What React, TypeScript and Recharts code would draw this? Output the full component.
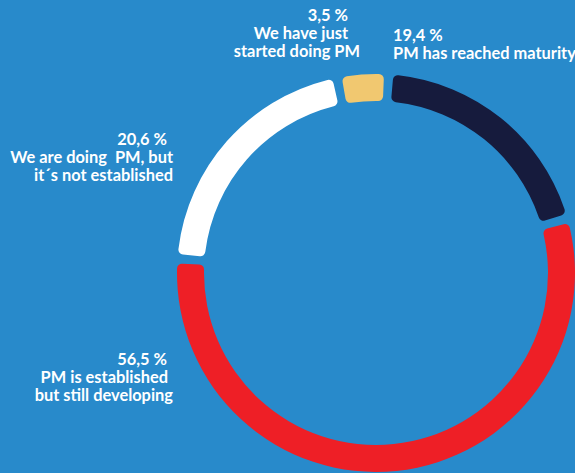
import { Cell, Pie, PieChart } from "recharts";

const categories = [
  "PM has reached maturity",
  "PM is established but still developing",
  "We are doing PM, but it´s not established",
  "We have just started doing PM",
];
const shares = [19.4, 56.5, 20.6, 3.5];
const labelLines = [
  ["PM has reached maturity"],
  ["PM is established", "but still developing"],
  ["We are doing  PM, but", "it´s not established"],
  ["We have just", "started doing PM"],
];
const colors = ["#161b3d", "#ee1f26", "#ffffff", "#f1c870"];

// where each label block sits (x per line: percent line first), and its first baseline
const labelLayout = [
  { anchor: "start", xs: [393, 393], y: 41 },
  { anchor: "end", xs: [167, 168, 173], y: 365 },
  { anchor: "end", xs: [167, 173, 173], y: 145 },
  { anchor: "end", xs: [348, 348, 360], y: 21 },
];

const data = categories.map((name, i) => ({ name, value: shares[i] }));

const fmt = (v: number) => `${v.toFixed(1).replace(".", ",")} %`;

function renderLabel(props: any) {
  const i = props.index;
  const lay = labelLayout[i];
  const lines = [fmt(shares[i]), ...labelLines[i]];
  return (
    <text
      key={`lbl-${i}`}
      fill="#ffffff"
      fontSize={16.4}
      fontWeight={700}
      fontFamily="Lato, 'Open Sans', sans-serif"
      textAnchor={lay.anchor as any}
      style={{ whiteSpace: "pre" }}
    >
      {lines.map((t, j) => (
        <tspan key={j} x={lay.xs[j]} y={lay.y + j * 18}>
          {t}
        </tspan>
      ))}
    </text>
  );
}

export default function App() {
  return (
    <div style={{ position: "absolute", left: 0, top: 0, width: 575, height: 473, background: "#288acb" }}>
      <PieChart width={575} height={473} margin={{ top: 0, right: 0, bottom: 0, left: 0 }}>
        <Pie
          data={data}
          dataKey="value"
          cx={376}
          cy={273}
          innerRadius={172}
          outerRadius={199}
          startAngle={85}
          endAngle={-275}
          paddingAngle={2.7}
          cornerRadius={5}
          stroke="none"
          label={renderLabel}
          labelLine={false}
          isAnimationActive={false}
        >
          {data.map((d, i) => (
            <Cell key={d.name} fill={colors[i]} />
          ))}
        </Pie>
      </PieChart>
    </div>
  );
}
